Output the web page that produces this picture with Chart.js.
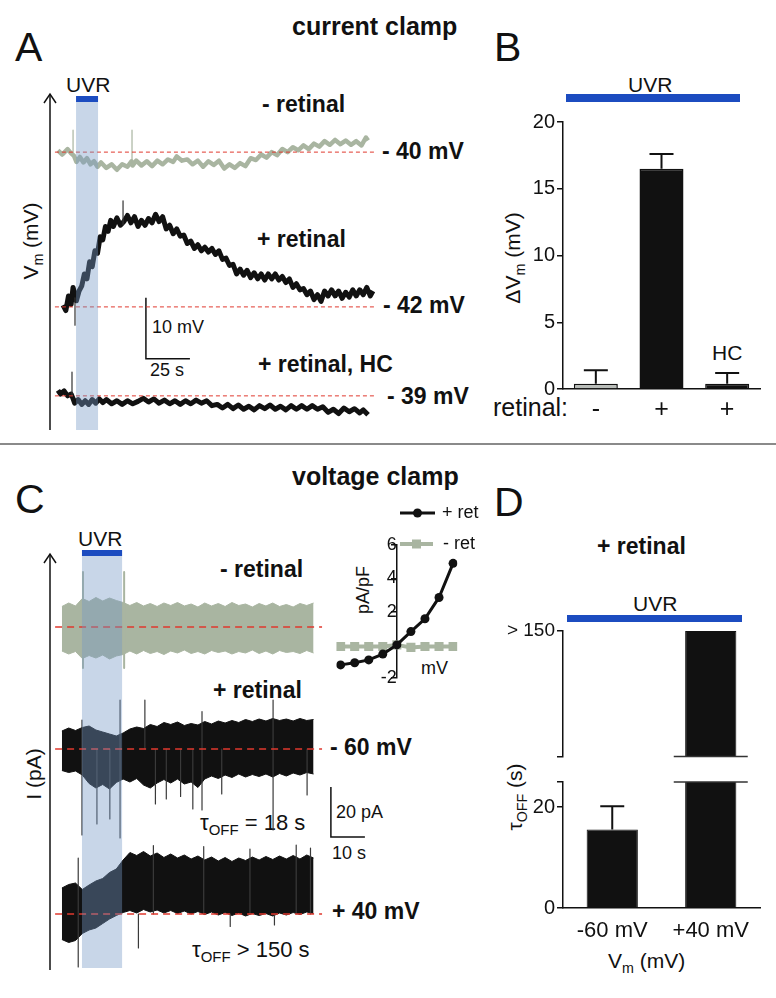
<!DOCTYPE html>
<html>
<head>
<meta charset="utf-8">
<script src="https://cdn.jsdelivr.net/npm/chart.js@4/dist/chart.umd.min.js"></script>
<style>
  body { margin: 0; background: #fff; width: 776px; height: 998px; position: relative; overflow: hidden;
         font-family: "Liberation Sans", Arial, sans-serif; color: #111; }
  canvas { position: absolute; }
  .t { position: absolute; white-space: nowrap; line-height: 1; transform: translateY(-50%); }
  .r { position: absolute; white-space: nowrap; line-height: 1; transform: translate(-50%, -50%) rotate(-90deg); }
  .b { font-weight: bold; }
  .s { font-size: 68%; position: relative; top: 0.32em; }
  .uvr { position: absolute; background: #1c4cc0; }
</style>
</head>
<body>

<!-- panel letters and headings -->
<div class="t" style="left:15px;top:47px;font-size:41px">A</div>
<div class="t" style="left:494px;top:47px;font-size:41px">B</div>
<div class="t" style="left:15px;top:499px;font-size:41px">C</div>
<div class="t" style="left:494px;top:502px;font-size:41px">D</div>
<div class="t b" style="left:292px;top:26px;font-size:25px">current clamp</div>
<div class="t b" style="left:292px;top:476px;font-size:25px">voltage clamp</div>
<div style="position:absolute;left:0;top:443px;width:776px;height:2px;background:#8a8a8a"></div>

<!-- panel A labels -->
<div class="t" style="left:66px;top:84px;font-size:21px">UVR</div>
<div class="r" style="left:30px;top:241px;font-size:21px">V<span class="s">m</span> (mV)</div>
<div class="t b" style="left:262px;top:104px;font-size:23px">- retinal</div>
<div class="t b" style="left:382px;top:151px;font-size:23px">- 40 mV</div>
<div class="t b" style="left:257px;top:239px;font-size:23px">+ retinal</div>
<div class="t b" style="left:383px;top:305px;font-size:23px">- 42 mV</div>
<div class="t" style="left:152px;top:327px;font-size:18px">10 mV</div>
<div class="t" style="left:150px;top:370px;font-size:18px">25 s</div>
<div class="t b" style="left:258px;top:364px;font-size:23px">+ retinal, HC</div>
<div class="t b" style="left:387px;top:396px;font-size:23px">- 39 mV</div>

<!-- panel B labels -->
<div class="t" style="left:628px;top:84px;font-size:21px">UVR</div>
<div class="uvr" style="left:566px;top:94px;width:174px;height:8px"></div>
<div class="r" style="left:512px;top:258px;font-size:21px">ΔV<span class="s">m</span> (mV)</div>
<div class="t" style="left:493px;top:407px;font-size:25px">retinal:</div>
<div class="t" style="left:712px;top:352px;font-size:21px">HC</div>

<!-- panel C labels -->
<div class="t" style="left:78px;top:538px;font-size:21px">UVR</div>
<div class="r" style="left:33px;top:774px;font-size:21px">I (pA)</div>
<div class="t b" style="left:220px;top:569px;font-size:23px">- retinal</div>
<div class="t b" style="left:213px;top:690px;font-size:23px">+ retinal</div>
<div class="t b" style="left:330px;top:747px;font-size:23px">- 60 mV</div>
<div class="t" style="left:200px;top:823px;font-size:22px">τ<span class="s">OFF</span> = 18 s</div>
<div class="t" style="left:336px;top:812px;font-size:18px">20 pA</div>
<div class="t" style="left:332px;top:853px;font-size:18px">10 s</div>
<div class="t b" style="left:332px;top:911px;font-size:23px">+ 40 mV</div>
<div class="t" style="left:192px;top:950px;font-size:22px">τ<span class="s">OFF</span> &gt; 150 s</div>
<div class="r" style="left:363px;top:590px;font-size:18px">pA/pF</div>
<div class="t" style="left:421px;top:668px;font-size:18px">mV</div>

<!-- panel D labels -->
<div class="t b" style="left:597px;top:546px;font-size:23px">+ retinal</div>
<div class="t" style="left:633px;top:603px;font-size:21px">UVR</div>
<div class="uvr" style="left:567px;top:615px;width:175px;height:7px"></div>
<div class="r" style="left:514px;top:797px;font-size:21px">τ<span class="s">OFF</span> (s)</div>
<div class="t" style="left:608px;top:960px;font-size:21px">V<span class="s">m</span> (mV)</div>

<canvas id="chartA" width="350" height="360" style="left:40px;top:80px"></canvas>
<canvas id="chartB" width="296" height="330" style="left:480px;top:100px"></canvas>
<canvas id="chartC" width="340" height="440" style="left:40px;top:540px"></canvas>
<canvas id="chartIV" width="150" height="190" style="left:330px;top:500px"></canvas>
<canvas id="chartDtop" width="296" height="155" style="left:480px;top:615px"></canvas>
<canvas id="chartDbot" width="296" height="190" style="left:480px;top:768px"></canvas>

<script>
// ---- panel A: current clamp traces (time s, deviation from rest mV) ----
const aGreyT = [4.5, 7, 10, 12, 13.6, 15, 17, 19, 21, 23, 25, 27, 29, 32, 35, 38, 41, 44, 46.3, 46.9,
  49, 52, 55, 58, 61, 64, 67, 70, 72, 75, 78, 81, 84, 87, 90, 93, 96, 99, 102, 105, 108, 111, 114, 117, 120,
  123, 126, 129, 132, 135, 138, 141, 144, 147, 150, 153, 156, 159, 162, 165, 168, 171, 174, 177, 179.5, 180.7];
const aGreyV = [0.3, -0.4, 0.5, -0.2, -0.6, -1.6, -0.8, -1.7, -1.0, -2.0, -1.5, -2.4, -1.7, -2.6, -2.0, -2.9, -2.0, -2.4, -1.5, -2.2,
  -1.4, -2.2, -1.5, -2.3, -1.4, -2.0, -1.2, -1.6, -0.7, -1.4, -1.2, -2.0, -1.4, -2.4, -1.5, -2.1, -1.4, -2.7, -2.0, -2.6, -1.8, -2.3, -1.0, -1.3, -0.4,
  -0.9, 0.0, -0.5, 0.5, 0.0, 0.8, 0.3, 1.1, 0.5, 1.4, 0.9, 1.8, 1.2, 2.0, 1.3, 1.9, 1.2, 1.8, 1.1, 2.4, 1.9];
const aGreySpikes = [[13.1, 3.6, -0.5], [46.6, 3.6, -1.8]];   // [time s, top mV, bottom mV]

const aRetT = [7.4, 9, 10.5, 12, 13.1, 15, 16.5, 18, 19.5, 21, 22.5, 24, 25.5, 27, 28.5, 30, 31.5, 33, 34.5, 36, 38, 40, 42,
  44, 46, 48, 50, 52, 54, 56, 58, 60, 62, 64, 66, 68, 70, 72, 74, 76, 78, 80, 82, 84, 86, 88, 90, 92, 94, 96, 98, 100,
  102, 104, 106, 108, 110, 112, 114, 116, 118, 120, 122, 124, 126, 128, 130, 132, 134, 136, 138, 140, 142, 144, 146, 148, 150,
  152, 154, 156, 158, 160, 162, 164, 166, 168, 170, 172, 174, 176, 178, 180, 182, 183.5];
const aRetV = [0.3, -0.6, 1.8, 0.4, 3.2, 1.0, 2.6, 3.4, 5.4, 4.6, 7.4, 6.6, 9.2, 8.8, 11.5, 11.0, 13.2, 12.4, 14.2, 13.2, 14.6, 13.4, 14.0,
  15.0, 13.8, 14.8, 13.2, 14.2, 13.4, 14.5, 13.8, 15.2, 14.0, 14.8, 12.8, 13.4, 12.0, 12.8, 11.6, 11.8, 10.4, 10.8, 9.6, 10.2, 9.2, 9.8, 9.0, 9.6, 8.6, 9.2, 7.8, 8.0,
  6.8, 7.0, 5.4, 6.2, 5.2, 6.0, 4.8, 5.6, 4.6, 5.4, 4.4, 5.4, 4.6, 5.4, 4.4, 5.0, 4.0, 4.6, 3.2, 3.8, 2.8, 3.0, 2.0, 2.6, 1.2,
  2.0, 0.9, 2.6, 1.8, 2.8, 1.8, 2.6, 1.4, 2.4, 1.6, 2.8, 1.8, 2.8, 2.0, 3.2, 1.8, 2.6];
const aRetSpikes = [[14.2, 1.5, -3.0], [41.5, 17.4, 13.5]];

const aHcT = [4.5, 6, 8, 10, 12, 12.9, 14, 16, 18, 20, 22, 24, 26, 28, 30, 32, 35, 38, 41, 44, 47, 50, 53, 56, 59, 62, 65, 68,
  71, 74, 77, 80, 83, 86, 89, 92, 95, 98, 101, 104, 107, 110, 113, 116, 119, 122, 125, 128, 131, 134, 137, 140, 143, 146, 149,
  152, 155, 158, 161, 164, 167, 170, 173, 176, 178, 180.7];
const aHcV = [0.9, 0.3, 0.8, 0.0, 0.3, -0.3, -1.2, -0.6, -1.4, -0.8, -1.4, -0.6, -1.2, -0.5, -1.1, -0.6, -1.3, -0.8, -1.4, -0.8, -1.3, -0.9, -0.4, -1.0, -0.5, -1.2, -0.7, -1.3,
  -0.8, -1.4, -0.8, -1.3, -0.7, -1.2, -0.8, -1.6, -1.4, -2.0, -1.4, -2.1, -1.5, -2.2, -1.7, -2.3, -1.6, -2.1, -1.5, -2.2, -1.7, -2.3, -1.6, -2.2, -1.6, -2.2, -1.6,
  -2.2, -1.8, -2.7, -2.2, -2.9, -2.0, -2.6, -2.1, -2.8, -2.3, -3.1];
const aHcSpikes = [[12.5, 3.9, 0]];

const aUvr = [14.8, 27.3];            // light on, s

// ---- panel C: voltage clamp traces (noise envelope, pA from holding level) ----
const cTime = [3.5, 5.5, 7.5, 9.5, 11.5, 13.5, 15.5, 17.5, 19.5, 21.5, 23.5, 25.5, 27.5, 29.5, 31.5, 33.5, 35.5, 37.5, 39.5,
  41.5, 43.5, 45.5, 47.5, 49.5, 51.5, 53.5, 55.5, 57.5, 59.5, 61.5, 63.5, 65.5, 67.5, 69.5, 71.5, 73.5, 75.5, 77.5];
const cNoRetHi = [8.2, 9.6, 8.4, 11.4, 10.2, 11.8, 10.4, 11.6, 10.6, 9.8, 8.6, 9.8, 8.4, 9.4, 8.2, 9.6, 8.6, 9.8, 8.4,
  9.2, 8.0, 9.6, 8.4, 9.4, 8.2, 9.8, 8.6, 9.2, 8.0, 9.4, 8.4, 9.6, 8.2, 9.0, 8.0, 9.4, 8.6, 9.6];
const cNoRetLo = [-9.6, -10.8, -9.8, -12.6, -11.4, -12.4, -11.2, -12.8, -11.6, -11.0, -9.6, -10.8, -9.4, -10.6, -9.8, -11.0, -9.6, -10.4, -9.2,
  -10.6, -9.8, -10.8, -9.4, -10.2, -9.6, -10.8, -9.8, -10.4, -9.2, -10.6, -9.6, -10.8, -9.4, -10.2, -9.8, -10.6, -9.4, -10.4];
const cNeg60Hi = [7.2, 8.4, 7.4, 8.6, 9.2, 7.6, 6.8, 6.0, 5.2, 6.4, 8.0, 8.8, 8.2, 9.8, 9.0, 10.6, 9.8, 10.8, 9.4,
  10.2, 9.6, 11.0, 10.0, 11.2, 10.4, 11.4, 10.6, 11.8, 11.0, 12.0, 11.2, 12.2, 11.4, 12.0, 11.2, 12.2, 11.4, 11.8];
const cNeg60Lo = [-8.6, -9.4, -8.8, -10.4, -13.8, -15.6, -14.2, -16.0, -13.4, -12.0, -13.2, -11.8, -14.4, -15.6, -13.6, -12.2, -13.6, -12.0, -14.0,
  -13.2, -15.4, -12.0, -10.8, -11.8, -10.4, -11.4, -10.0, -11.2, -10.2, -11.0, -10.0, -11.2, -9.8, -10.8, -9.6, -10.4, -9.4, -10.0];
const cPos40Hi = [10.4, 11.8, 12.4, 9.8, 11.6, 13.2, 14.2, 16.6, 18.0, 21.6, 24.6, 23.4, 25.0, 23.2, 24.4, 22.6, 24.0, 22.4, 23.6,
  22.0, 23.2, 21.6, 22.8, 21.2, 22.6, 21.0, 22.4, 21.4, 22.8, 21.6, 23.0, 21.8, 23.2, 22.0, 23.4, 22.0, 23.6, 22.4];
const cPos40Lo = [-10.2, -11.4, -10.6, -7.8, -6.4, -5.6, -3.8, -2.0, -0.6, 0.6, 1.4, 0.4, 1.8, 0.8, 1.6, 0.4, 1.4, 0.2, 1.2,
  0.0, 1.0, -0.2, 0.8, -0.4, 0.6, -0.6, 0.4, -0.8, 0.2, -0.6, 0.2, -0.8, 0.4, -0.4, 0.6, -0.2, 0.8, 0.2];
// single events: [time s, top pA, bottom pA]
const cNoRetSpikes = [[9.7, 22, -16.4], [21.8, 22, -16.4]];
const cNeg60Spikes = [[9.4, 11.6, -34.4], [13.8, 0, -30], [17.6, 0, -28], [20.6, 19.6, -35.6], [27.9, 19.6, 0],
  [31, 0, -22], [34.2, 0, -20], [38.4, 0, -19], [42, 0, -24], [44.7, 15, -24.4], [50.5, 0, -18],
  [65.6, 19.6, -32.4], [75.6, 0, -18.4]];
const cPos40Spikes = [[8.3, 22.4, -21.2], [26, 0, -13.6], [30.4, 27.4, 0], [45.2, 27, 0], [58.8, 26, 0],
  [72.4, 27.6, 0], [76.6, 26.4, 0], [53, 0, -5], [66, 0, -4.4]];
const cUvr = [9.4, 21.2];

// ---- panel C inset: I-V relation ----
const ivVolt = [-80, -60, -40, -20, 0, 20, 40, 60, 80];
const ivRet = [-1.2, -1.07, -0.9, -0.55, 0, 0.8, 1.57, 2.85, 4.9];
const ivNoRet = [-0.1, -0.1, -0.1, -0.1, 0, -0.15, -0.1, -0.1, -0.1];

// ---- panel B: UVR-evoked depolarisation ----
const bLabels = ['-', '+', '+'];
const bMeans = [0.4, 16.5, 0.4];
const bErr = [1.0, 1.1, 0.8];

// ---- panel D: off time constant ----
const dLabels = ['-60 mV', '+40 mV'];
const dMeans = [15.6, 150];
const dErr = [4.6, 0];

// layout: holding level of each trace on its panel's scale
const aLevels = { noRet: 45.6, ret: 20.2, hc: 5.6 };
const cLevels = { noRet: 137.2, neg60: 88.4, pos40: 22.4 };

const INK = '#111';
const GREY = '#a9b5a1';
const RED = '#e0392e';
Chart.defaults.font.family = '"Liberation Sans", Arial, sans-serif';
Chart.defaults.color = INK;
Chart.defaults.animation = false;
Chart.defaults.plugins.legend.display = false;
Chart.defaults.plugins.tooltip.enabled = false;

function pts(ts, vs, off) { return ts.map((t, i) => ({ x: t, y: vs[i] + off })); }
function spikePts(list, off) {
  const p = [];
  list.forEach(([t, hi, lo]) => { p.push({ x: t, y: hi + off }, { x: t, y: lo + off }, { x: t, y: null }); });
  return p;
}
function line(data, color, width, extra) {
  return Object.assign({ data, borderColor: color, borderWidth: width, pointRadius: 0, tension: 0, fill: false,
    borderJoinStyle: 'round' }, extra || {});
}

// shaded light period, blue UVR bar and the vertical arrow of a trace panel
const tracePanel = {
  id: 'tracePanel',
  afterDatasetsDraw(chart, args, o) {
    const { ctx, chartArea: a, scales: { x } } = chart;
    const x0 = x.getPixelForValue(o.uvr[0]), x1 = x.getPixelForValue(o.uvr[1]);
    ctx.save();
    ctx.fillStyle = 'rgba(117,152,197,0.4)';
    ctx.fillRect(x0, a.top + o.shadeTop, x1 - x0, a.bottom - a.top - o.shadeTop - o.shadeBottom);
    ctx.fillStyle = '#1c4cc0';
    ctx.fillRect(x0, a.top + o.barTop, x1 - x0, 6);
    ctx.strokeStyle = INK; ctx.lineWidth = 1.5;
    ctx.beginPath(); ctx.moveTo(a.left, a.bottom); ctx.lineTo(a.left, a.top + 1); ctx.stroke();
    ctx.beginPath(); ctx.moveTo(a.left - 6, a.top + 10); ctx.lineTo(a.left, a.top + 1); ctx.lineTo(a.left + 6, a.top + 10); ctx.stroke();
    ctx.restore();
  }
};

// upper error bars
const errorCaps = {
  id: 'errorCaps',
  afterDatasetsDraw(chart, args, o) {
    const { ctx, chartArea: a, scales: { y } } = chart;
    const meta = chart.getDatasetMeta(0);
    const vals = chart.data.datasets[0].data;
    ctx.save();
    ctx.beginPath(); ctx.rect(a.left, a.top - 2, a.right - a.left, a.bottom - a.top + 2); ctx.clip();
    ctx.strokeStyle = INK; ctx.lineWidth = 2;
    o.errors.forEach((e, i) => {
      if (!e) return;
      const bar = meta.data[i];
      const yb = y.getPixelForValue(vals[i]);
      const yt = y.getPixelForValue(vals[i] + e);
      ctx.beginPath();
      ctx.moveTo(bar.x, yb); ctx.lineTo(bar.x, yt);
      ctx.moveTo(bar.x - o.cap, yt); ctx.lineTo(bar.x + o.cap, yt);
      ctx.stroke();
    });
    ctx.restore();
  }
};

// axis break marks across a bar
const breakMarks = {
  id: 'breakMarks',
  afterDatasetsDraw(chart, args, o) {
    const { ctx, chartArea: a } = chart;
    const bar = chart.getDatasetMeta(0).data[o.index];
    const yy = o.edge === 'top' ? a.top : a.bottom;
    ctx.save();
    ctx.strokeStyle = '#333'; ctx.lineWidth = 1.5;
    ctx.beginPath(); ctx.moveTo(bar.x - o.half, yy); ctx.lineTo(bar.x + o.half, yy); ctx.stroke();
    ctx.restore();
  }
};

// legend of the I-V inset (line with marker, then text)
const ivLegend = {
  id: 'ivLegend',
  afterDraw(chart, args, o) {
    const ctx = chart.ctx;
    ctx.save();
    o.rows.forEach((r, i) => {
      const ds = chart.data.datasets[i];
      ctx.strokeStyle = ds.borderColor; ctx.lineWidth = ds.borderWidth;
      ctx.beginPath(); ctx.moveTo(r.x0, r.y); ctx.lineTo(r.x1, r.y); ctx.stroke();
      ctx.fillStyle = ds.pointBackgroundColor;
      const m = (r.x0 + r.x1) / 2;
      if (ds.pointStyle === 'rect') ctx.fillRect(m - 4.5, r.y - 4.5, 9, 9);
      else { ctx.beginPath(); ctx.arc(m, r.y, ds.pointRadius, 0, Math.PI * 2); ctx.fill(); }
      ctx.fillStyle = INK; ctx.font = '18px "Liberation Sans", Arial, sans-serif';
      ctx.textBaseline = 'middle';
      ctx.fillText(r.text, r.tx, r.y);
    });
    ctx.restore();
  }
};

// ---------------- panel A ----------------
const aBar = { t0: 54.5, v0: 11.7, dt: 25, dv: 10 };
new Chart(document.getElementById('chartA'), {
  type: 'line',
  data: {
    datasets: [
      line([{ x: 2.8, y: aLevels.noRet }, { x: 184.7, y: aLevels.noRet }], RED, 1, { borderDash: [4, 3] }),
      line([{ x: 2.8, y: aLevels.ret }, { x: 184.7, y: aLevels.ret }], RED, 1, { borderDash: [4, 3] }),
      line([{ x: 2.8, y: aLevels.hc }, { x: 184.7, y: aLevels.hc }], RED, 1, { borderDash: [4, 3] }),
      line([{ x: aBar.t0, y: aBar.v0 + aBar.dv }, { x: aBar.t0, y: aBar.v0 }, { x: aBar.t0 + aBar.dt, y: aBar.v0 }], INK, 1.5,
        { borderJoinStyle: 'miter' }),
      line(spikePts(aGreySpikes, aLevels.noRet), GREY, 1.2, { spanGaps: false }),
      line(spikePts(aRetSpikes, aLevels.ret), '#333', 1.2, { spanGaps: false }),
      line(spikePts(aHcSpikes, aLevels.hc), '#333', 1.2, { spanGaps: false }),
      line(pts(aGreyT, aGreyV, aLevels.noRet), GREY, 4.5),
      line(pts(aRetT, aRetV, aLevels.ret), INK, 5),
      line(pts(aHcT, aHcV, aLevels.hc), INK, 5)
    ]
  },
  options: {
    responsive: false, devicePixelRatio: 1,
    layout: { padding: { left: 10, right: 10, top: 13, bottom: 10 } },
    scales: {
      x: { type: 'linear', min: 0, max: 187.5, display: false },
      y: { min: 0, max: 55.3, display: false }
    },
    plugins: { tracePanel: { uvr: aUvr, barTop: 3, shadeTop: 9, shadeBottom: 0 } }
  },
  plugins: [tracePanel]
});

// ---------------- panel C ----------------
const cBar = { t0: 82.6, v0: 53.2, dt: 10, dv: 20 };
function band(hi, lo, off, color) {
  return [
    line(pts(cTime, hi, off), color, 1),
    line(pts(cTime, lo, off), color, 1, { fill: '-1', backgroundColor: color })
  ];
}
new Chart(document.getElementById('chartC'), {
  type: 'line',
  data: {
    datasets: [
      line([{ x: 1.5, y: cLevels.noRet }, { x: 80, y: cLevels.noRet }], RED, 1.5, { borderDash: [7, 5] }),
      line([{ x: 1.5, y: cLevels.neg60 }, { x: 80, y: cLevels.neg60 }], RED, 1.5, { borderDash: [7, 5] }),
      line([{ x: 1.5, y: cLevels.pos40 }, { x: 80, y: cLevels.pos40 }], RED, 1.5, { borderDash: [7, 5] }),
      line([{ x: cBar.t0, y: cBar.v0 + cBar.dv }, { x: cBar.t0, y: cBar.v0 }, { x: cBar.t0 + cBar.dt, y: cBar.v0 }], INK, 1.5,
        { borderJoinStyle: 'miter' }),
      line(spikePts(cNoRetSpikes, cLevels.noRet), GREY, 2, { spanGaps: false }),
      line(spikePts(cNeg60Spikes, cLevels.neg60), '#3a3a3a', 1.2, { spanGaps: false }),
      line(spikePts(cPos40Spikes, cLevels.pos40), '#3a3a3a', 1.2, { spanGaps: false }),
      ...band(cNoRetHi, cNoRetLo, cLevels.noRet, GREY),
      ...band(cNeg60Hi, cNeg60Lo, cLevels.neg60, INK),
      ...band(cPos40Hi, cPos40Lo, cLevels.pos40, INK)
    ]
  },
  options: {
    responsive: false, devicePixelRatio: 1,
    layout: { padding: { left: 10, right: 10, top: 13, bottom: 10 } },
    scales: {
      x: { type: 'linear', min: 0, max: 94.1, display: false },
      y: { min: 0, max: 166.8, display: false }
    },
    plugins: { tracePanel: { uvr: cUvr, barTop: -3, shadeTop: 3, shadeBottom: 2 } }
  },
  plugins: [tracePanel]
});

// ---------------- panel C inset ----------------
new Chart(document.getElementById('chartIV'), {
  type: 'line',
  data: {
    labels: ivVolt,
    datasets: [
      { data: ivVolt.map((v, i) => ({ x: v, y: ivRet[i] })), borderColor: INK, borderWidth: 3, tension: 0,
        pointRadius: 4.5, pointStyle: 'circle', pointBackgroundColor: INK, pointBorderWidth: 0 },
      { data: ivVolt.map((v, i) => ({ x: v, y: ivNoRet[i] })), borderColor: GREY, borderWidth: 4, tension: 0,
        pointRadius: 6.4, pointStyle: 'rect', pointBackgroundColor: GREY, pointBorderWidth: 0 }
    ]
  },
  options: {
    responsive: false, devicePixelRatio: 1,
    layout: { padding: { left: 3.7, right: 22.7, top: 45, bottom: 8 } },
    scales: {
      x: { type: 'linear', min: -86, max: 86, display: false },
      y: {
        position: { x: 0 }, min: -2, max: 6,
        ticks: { stepSize: 2, font: { size: 18 }, padding: 1, callback: v => (v === 0 ? '' : v) },
        grid: { drawOnChartArea: false, tickLength: 5, color: INK, lineWidth: 1.5 },
        border: { color: INK, width: 1.5 }
      }
    },
    plugins: {
      ivLegend: { rows: [
        { x0: 70, x1: 105, y: 13, tx: 112, text: '+ ret' },
        { x0: 70, x1: 103, y: 44, tx: 113, text: '- ret' }
      ] }
    }
  },
  plugins: [ivLegend]
});

// ---------------- panel B ----------------
new Chart(document.getElementById('chartB'), {
  type: 'bar',
  data: {
    labels: bLabels,
    datasets: [{ data: bMeans, backgroundColor: ['#b9bdb9', INK, INK], borderColor: INK, borderWidth: 1.5,
      categoryPercentage: 0.67, barPercentage: 1 }]
  },
  options: {
    responsive: false, devicePixelRatio: 1,
    layout: { padding: { left: 0, right: 16, top: 22, bottom: 0 } },
    scales: {
      x: {
        grid: { display: true, drawOnChartArea: false, drawTicks: false },
        border: { color: INK, width: 1.5 },
        ticks: { font: { size: 25 }, padding: 6 },
        afterFit: s => { s.height = 41; }
      },
      y: {
        min: 0, max: 20,
        ticks: { stepSize: 5, font: { size: 20 }, padding: 2 },
        grid: { drawOnChartArea: false, tickLength: 6, color: INK, lineWidth: 1.5 },
        border: { color: INK, width: 1.5 },
        afterFit: s => { s.width = 83; }
      }
    },
    plugins: { errorCaps: { errors: bErr, cap: 12 } }
  },
  plugins: [errorCaps]
});

// ---------------- panel D (broken axis: two stacked charts) ----------------
function dChart(id, yOpts, xShow, pad, brk) {
  return new Chart(document.getElementById(id), {
    type: 'bar',
    data: {
      labels: dLabels,
      datasets: [{ data: dMeans, backgroundColor: INK, borderColor: INK, borderWidth: 1,
        categoryPercentage: 0.52, barPercentage: 1 }]
    },
    options: {
      responsive: false, devicePixelRatio: 1,
      layout: { padding: pad },
      scales: {
        x: xShow ? {
          grid: { display: true, drawOnChartArea: false, drawTicks: false },
          border: { color: INK, width: 1.5 },
          ticks: { font: { size: 22 }, padding: 10 },
          afterFit: s => { s.height = 50; }
        } : { display: false },
        y: Object.assign({
          grid: { drawOnChartArea: false, tickLength: 6, color: INK, lineWidth: 1.5 },
          border: { color: INK, width: 1.5 },
          afterFit: s => { s.width = 83; }
        }, yOpts)
      },
      plugins: { errorCaps: { errors: dErr, cap: 12 }, breakMarks: brk }
    },
    plugins: [errorCaps, breakMarks]
  });
}
dChart('chartDtop', {
  min: 100, max: 150,
  afterBuildTicks: s => { s.ticks = [{ value: 100 }, { value: 150 }]; },
  ticks: { font: { size: 19 }, padding: 2, callback: v => (v === 150 ? '> 150' : '') }
}, false, { left: 0, right: 16, top: 16, bottom: 8 }, { index: 1, edge: 'bottom', half: 37 });
dChart('chartDbot', {
  min: 0, max: 25,
  afterBuildTicks: s => { s.ticks = [{ value: 0 }, { value: 20 }, { value: 25 }]; },
  ticks: { font: { size: 20 }, padding: 2, callback: v => (v === 25 ? '' : v) }
}, true, { left: 0, right: 16, top: 14, bottom: 0 }, { index: 1, edge: 'top', half: 37 });
</script>
</body>
</html>
